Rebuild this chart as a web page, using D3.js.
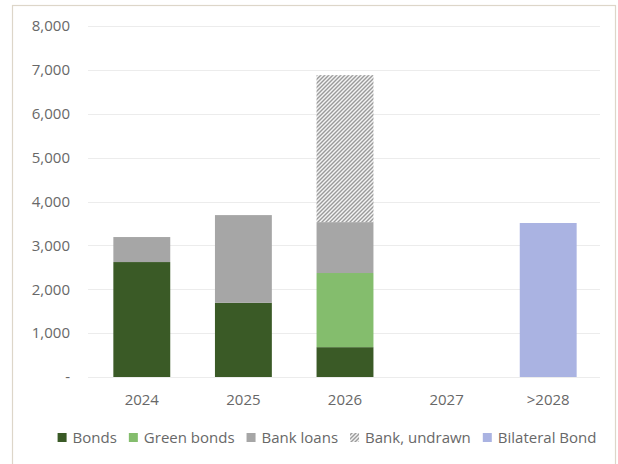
<!DOCTYPE html>
<html>
<head>
<meta charset="utf-8">
<script src="https://cdn.jsdelivr.net/npm/d3@7"></script>
<style>
  html, body { margin: 0; padding: 0; background: #fff; }
  svg { display: block; font-family: "Open Sans", Lato, sans-serif; }
</style>
</head>
<body>
<svg id="chart" width="618" height="464"></svg>
<script>
// Debt maturity profile (amounts per year, stacked by funding source)
const categories = ["2024", "2025", "2026", "2027", ">2028"];
const seriesNames = ["Bonds", "Green bonds", "Bank loans", "Bank, undrawn", "Bilateral Bond"];
const bonds         = [2620, 1690, 680, 0, 0];
const greenBonds    = [0, 0, 1690, 0, 0];
const bankLoans     = [570, 2000, 1160, 0, 0];
const bankUndrawn   = [0, 0, 3350, 0, 0];
const bilateralBond = [0, 0, 0, 0, 3510];
const yTicks = [0, 1000, 2000, 3000, 4000, 5000, 6000, 7000, 8000];

const seriesValues = [bonds, greenBonds, bankLoans, bankUndrawn, bilateralBond];
const fills = ["#3a5a26", "#84bd6d", "#a6a6a6", "url(#hatch)", "#aab3e2"];
const textColor = "#686868";
const fontFamily = "'Open Sans', Lato, sans-serif";
const fontSize = "15px";

const svg = d3.select("#chart");
const W = 618, H = 464;
const margin = { left: 91, right: 19, top: 26, bottom: 87 };

// Diagonal hatch used for undrawn facilities
const defs = svg.append("defs");
const pat = defs.append("pattern")
  .attr("id", "hatch").attr("patternUnits", "userSpaceOnUse")
  .attr("width", 4).attr("height", 4);
pat.append("rect").attr("width", 4).attr("height", 4).attr("fill", "#f4f4f4");
pat.append("path").attr("d", "M-1,1 l2,-2 M0,4 l4,-4 M3,5 l2,-2")
  .attr("stroke", "#9a9a9a").attr("stroke-width", 1.4);

// Chart frame
svg.append("rect")
  .attr("x", 12.5).attr("y", 5.5).attr("width", 603).attr("height", 470)
  .attr("fill", "#fff").attr("stroke", "#ddd6c9").attr("stroke-width", 1.2);

const x = d3.scaleBand().domain(categories)
  .range([margin.left, W - margin.right])
  .paddingInner(0.44).paddingOuter(0.22);
const y = d3.scaleLinear().domain([0, 8000]).range([H - margin.bottom, margin.top]);

// Gridlines
svg.append("g").selectAll("line").data(yTicks).join("line")
  .attr("x1", 88).attr("x2", 600)
  .attr("y1", d => Math.round(y(d)) + 0.5).attr("y2", d => Math.round(y(d)) + 0.5)
  .attr("stroke", "#ececec").attr("stroke-width", 1);

// Y axis labels
const yAxis = d3.axisLeft(y).tickValues(yTicks)
  .tickFormat(d => d === 0 ? "-" : d3.format(",")(d))
  .tickSize(0).tickPadding(0);
const gy = svg.append("g").attr("transform", "translate(70,0)").call(yAxis);
gy.select(".domain").remove();
gy.selectAll("text").attr("fill", textColor).style("font-size", fontSize)
  .style("font-family", fontFamily);

// Stacked bars
const table = categories.map((c, i) => {
  const row = { category: c };
  seriesNames.forEach((s, j) => row[s] = seriesValues[j][i]);
  return row;
});
const stack = d3.stack().keys(seriesNames)(table);
svg.append("g").selectAll("g").data(stack).join("g")
  .attr("fill", (d, i) => fills[i])
  .selectAll("rect").data(d => d.filter(p => p[1] - p[0] > 0)).join("rect")
  .attr("x", d => x(d.data.category))
  .attr("width", x.bandwidth())
  .attr("y", d => y(d[1]))
  .attr("height", d => y(d[0]) - y(d[1]));

// X axis labels
const xAxis = d3.axisBottom(x).tickSize(0).tickPadding(0);
const gx = svg.append("g").attr("transform", `translate(0,${H - margin.bottom + 17})`).call(xAxis);
gx.select(".domain").remove();
gx.selectAll("text").attr("fill", textColor).style("font-size", fontSize)
  .style("font-family", fontFamily);

// Legend
const legend = svg.append("g").attr("transform", "translate(0,443)");
const items = legend.selectAll("g").data(seriesNames).join("g");
items.append("rect").attr("width", 9).attr("height", 9).attr("y", -10)
  .attr("fill", (d, i) => fills[i]);
items.append("text").attr("x", 15).attr("y", 0)
  .attr("fill", textColor).style("font-size", fontSize)
  .style("font-family", fontFamily).text(d => d);
let cx = 0;
const gap = 12;
const offs = [];
items.each(function() {
  offs.push(cx);
  cx += this.getBBox().width + gap;
});
const total = cx - gap;
const start = 327 - total / 2;
items.attr("transform", (d, i) => `translate(${start + offs[i]},0)`);
</script>
</body>
</html>
